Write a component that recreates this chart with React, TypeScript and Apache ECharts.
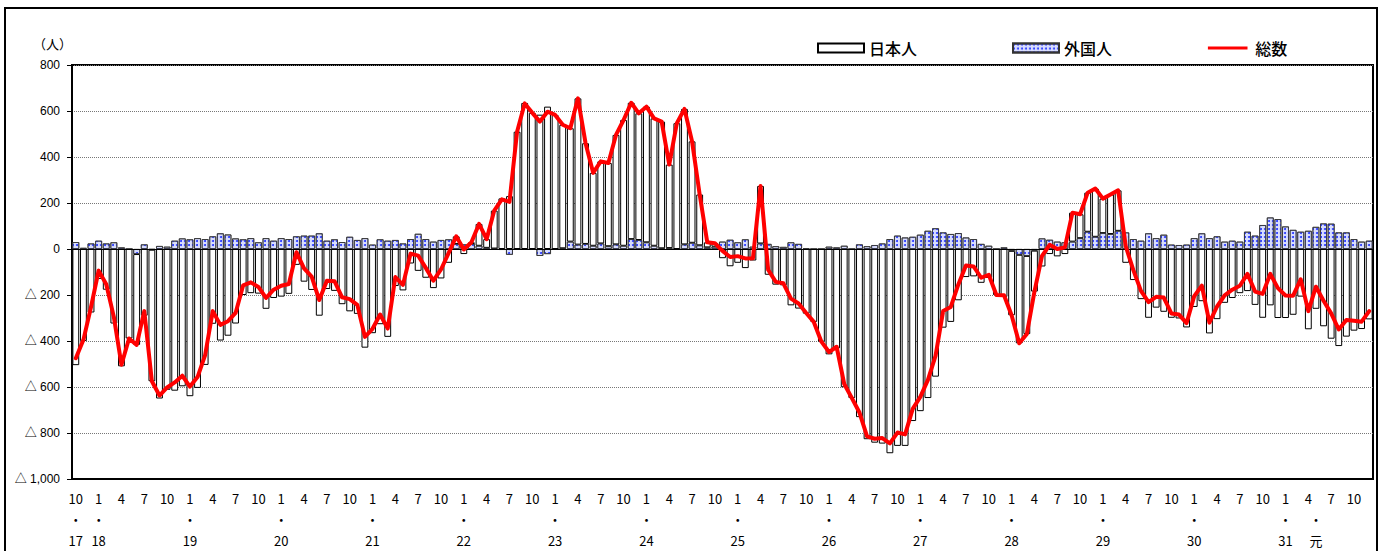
import React, { useEffect, useRef } from 'react';
import * as echarts from 'echarts';

// Monthly categories: 2005-10 (H17.10) .. 2019-12 (R1.12)
const START_YEAR = 2005;
const START_MONTH = 10;
const MONTH_COUNT = 171;
const categories: string[] = [];
for (let i = 0; i < MONTH_COUNT; i++) {
  const m = ((START_MONTH - 1 + i) % 12) + 1;
  const y = START_YEAR + Math.floor((START_MONTH - 1 + i) / 12);
  categories.push(`${y}-${String(m).padStart(2, '0')}`);
}

const monthTicks = [1, 4, 7, 10];
const eraTicks: [string, string][] = [
  ['2005-10', '17'], ['2006-01', '18'], ['2007-01', '19'], ['2008-01', '20'],
  ['2009-01', '21'], ['2010-01', '22'], ['2011-01', '23'], ['2012-01', '24'],
  ['2013-01', '25'], ['2014-01', '26'], ['2015-01', '27'], ['2016-01', '28'],
  ['2017-01', '29'], ['2018-01', '30'], ['2019-01', '31'], ['2019-05', '元'],
];
const yTicks = [800, 600, 400, 200, 0, -200, -400, -600, -800, -1000];

const japanese = [
  -505, -400, -276, -130, -177, -324, -510, -389, -395, -290,
  -572, -650, -612, -616, -597, -640, -604, -504, -325, -398,
  -377, -324, -200, -192, -194, -260, -213, -207, -195, -69,
  -142, -178, -290, -174, -182, -240, -271, -282, -429, -366,
  -327, -382, -161, -180, -63, -95, -125, -170, -128, -60,
  33, -22, 7, 95, 38, 165, 220, 230, 510, 635,
  592, 584, 619, 583, 537, 493, 636, 438, 317, 357,
  362, 476, 547, 593, 551, 590, 554, 551, 363, 547,
  589, 441, 221, 22, 15, -40, -75, -60, -83, -50,
  250, -112, -155, -158, -245, -259, -281, -317, -403, -458,
  -432, -601, -648, -731, -827, -842, -846, -888, -856, -856,
  -748, -705, -648, -555, -342, -317, -223, -122, -119, -147,
  -126, -200, -208, -280, -385, -340, -178, -76, -22, -32,
  -22, 126, 104, 170, 210, 150, 172, 176, -60, -135,
  -218, -299, -255, -273, -299, -302, -341, -252, -227, -367,
  -305, -234, -213, -192, -183, -243, -299, -245, -300, -300,
  -286, -207, -349, -260, -336, -390, -422, -381, -355, -348,
  -306,
];

const foreign = [
  30, 5, 24, 36, 24, 29, 7, 0, -22, 20,
  -3, 13, 10, 36, 46, 42, 47, 43, 55, 68,
  63, 46, 42, 47, 29, 47, 36, 47, 43, 55,
  58, 58, 68, 36, 42, 30, 53, 39, 47, 19,
  42, 36, 39, 24, 43, 66, 43, 32, 39, 42,
  22, 20, 22, 14, 5, 2, -4, -25, 0, -2,
  0, -30, -22, 0, 3, 32, 19, 22, 14, 24,
  12, 20, 14, 43, 39, 29, 14, 3, 4, 0,
  20, 27, 16, 7, 10, 32, 40, 29, 42, 10,
  24, 22, 12, 9, 29, 22, 3, 0, 0, 10,
  7, 14, 0, 20, 12, 17, 24, 43, 58, 50,
  53, 62, 79, 90, 72, 65, 69, 50, 43, 22,
  14, 0, 7, -8, -25, -30, -7, 46, 40, 32,
  29, 32, 47, 75, 53, 69, 65, 79, 72, 43,
  36, 68, 47, 62, 19, 17, 19, 47, 68, 47,
  55, 32, 36, 32, 75, 58, 104, 137, 130, 98,
  83, 75, 79, 96, 111, 110, 72, 72, 43, 32,
  36,
];

const total = [
  -475, -395, -252, -94, -153, -295, -503, -389, -417, -270,
  -575, -637, -602, -580, -551, -598, -557, -461, -270, -330,
  -314, -278, -158, -145, -165, -213, -177, -160, -152, -14,
  -84, -120, -222, -138, -140, -210, -218, -243, -382, -347,
  -285, -346, -122, -156, -20, -29, -82, -138, -89, -18,
  55, -2, 29, 109, 43, 167, 216, 205, 510, 633,
  592, 554, 597, 583, 540, 525, 655, 460, 331, 381,
  374, 496, 561, 636, 590, 619, 568, 554, 367, 547,
  609, 468, 237, 29, 25, -8, -35, -31, -41, -40,
  274, -90, -143, -149, -216, -237, -278, -317, -403, -448,
  -425, -587, -648, -711, -815, -825, -822, -845, -798, -806,
  -695, -643, -569, -465, -270, -252, -154, -72, -76, -125,
  -112, -200, -201, -288, -410, -370, -185, -30, 18, 0,
  7, 158, 151, 245, 263, 219, 237, 255, 12, -92,
  -182, -231, -208, -211, -280, -285, -322, -205, -159, -320,
  -250, -202, -177, -160, -108, -185, -195, -108, -170, -202,
  -203, -132, -270, -164, -225, -280, -350, -309, -312, -316,
  -270,
];

const eraMap: Record<string, string> = {};
eraTicks.forEach(([c, l]) => { eraMap[c] = l; });

const JP = "'Noto Sans CJK JP', sans-serif";
const LINE_ICON = 'path://M0,0 M0,10 M1,3.3 L45,3.3 L45,6.7 L1,6.7 Z';

export default function App() {
  const ref = useRef<HTMLDivElement>(null);
  useEffect(() => {
    document.body.style.margin = '0';
    if (!ref.current) return;
    const chart = echarts.init(ref.current, undefined, { renderer: 'svg' });
    chart.setOption({
      animation: false,
      backgroundColor: '#fff',
      grid: { left: 72, top: 65, width: 1301, height: 417, show: true, borderColor: '#000', borderWidth: 2, backgroundColor: 'transparent' },
      legend: {
        left: 812,
        top: 35,
        itemWidth: 46,
        itemHeight: 9,
        itemGap: 95,
        textStyle: { fontSize: 16, color: '#000', fontFamily: JP, fontWeight: 500 },
        data: [
          { name: '日本人', icon: 'rect' },
          { name: '外国人', icon: 'rect' },
          { name: '総数', icon: LINE_ICON, itemStyle: { color: '#ff0000', borderWidth: 0 } },
        ],
      },
      graphic: [
        { type: 'rect', shape: { x: 5, y: 8, width: 1372, height: 700 }, style: { fill: 'none', stroke: '#000', lineWidth: 2 }, silent: true },
        { type: 'text', left: 33, top: 37, style: { text: '（人）', fontSize: 13, fill: '#000', fontFamily: JP } },
      ],
      xAxis: {
        type: 'category',
        data: categories,
        boundaryGap: true,
        axisLine: { onZero: false, lineStyle: { color: '#000', width: 2 } },
        axisTick: { show: false },
        splitLine: { show: false },
        axisLabel: {
          interval: 0,
          margin: 9,
          lineHeight: 21,
          fontSize: 13,
          color: '#000',
          fontFamily: "'Liberation Sans Narrow', 'Noto Sans CJK JP', sans-serif",
          formatter: (value: string) => {
            const m = parseInt(value.slice(5), 10);
            const row1 = monthTicks.includes(m) ? String(m) : ' ';
            const era = eraMap[value];
            if (era) return `${row1}\n・\n${era}`;
            return row1 === ' ' ? '' : row1;
          },
        },
      },
      yAxis: {
        type: 'value',
        min: yTicks[yTicks.length - 1],
        max: yTicks[0],
        interval: 200,
        axisLine: { show: true, lineStyle: { color: '#000', width: 2 } },
        axisTick: { show: true, length: 5, lineStyle: { color: '#000' } },
        axisLabel: {
          margin: 12,
          fontSize: 12,
          color: '#000',
          fontFamily: "'Liberation Sans', 'Noto Sans CJK JP', sans-serif",
          formatter: (v: number) => (v < 0 ? '△ ' + Math.abs(v).toLocaleString('en-US') : String(v)),
        },
        splitLine: { show: true, lineStyle: { color: '#777', type: 'dotted', width: 1 } },
      },
      series: [
        {
          name: '外国人',
          type: 'bar',
          stack: 'p',
          data: foreign,
          barCategoryGap: '10%',
          itemStyle: {
            color: '#d8ddff',
            borderColor: '#333',
            borderWidth: 0.8,
            decal: {
              symbol: 'circle',
              symbolSize: 1,
              color: '#2233ff',
              dashArrayX: [1.8, 2],
              dashArrayY: [1.8, 1.8],
            },
          },
          z: 2,
        },
        {
          name: '日本人',
          type: 'bar',
          stack: 'p',
          data: japanese,
          barCategoryGap: '10%',
          itemStyle: { color: '#fff', borderColor: '#000', borderWidth: 1 },
          markLine: {
            silent: true,
            symbol: 'none',
            label: { show: false },
            lineStyle: { color: '#000', type: 'solid', width: 1.2 },
            data: [{ yAxis: 0 }],
          },
          z: 2,
        },
        {
          name: '総数',
          type: 'line',
          data: total,
          symbol: 'none',
          showSymbol: false,
          lineStyle: { color: '#ff0000', width: 4, cap: 'round', join: 'round' },
          itemStyle: { color: '#ff0000' },
          z: 5,
        },
      ],
    });
    return () => chart.dispose();
  }, []);
  return <div ref={ref} style={{ width: 1379, height: 551 }} />;
}
